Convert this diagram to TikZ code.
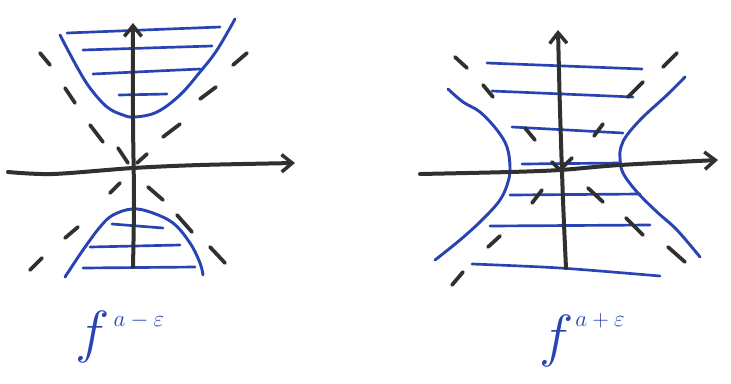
\documentclass[tikz,border=0pt]{standalone}
\usetikzlibrary{arrows.meta}
\definecolor{penblue}{RGB}{40,68,178}
\definecolor{penblack}{RGB}{48,48,48}
\begin{document}
\begin{tikzpicture}[x=0.75pt,y=-0.75pt,
  axisline/.style={draw=penblack,line width=3pt,line cap=round,
    -{Straight Barb[length=8pt,width=13pt,line width=2.6pt]}},
  level/.style={draw=penblue,line width=2pt,line cap=round},
  sheet/.style={draw=penblue,line width=2.2pt,line cap=round},
  dashseg/.style={draw=penblack,line width=2.8pt,line cap=round},
  fsym/.style={text=penblue,inner sep=0pt,anchor=center,font=\Huge,scale=1.75},
  supsym/.style={text=penblue,inner sep=0pt,anchor=center,font=\fontsize{18}{18}\selectfont}]
\useasboundingbox (0,0) rectangle (731,383);

% ---------- left panel ----------
\coordinate (LO) at (133,168);
\coordinate (LVa) at (133,267);
\coordinate (LVb) at (133,23);
\coordinate (LHa) at (8,172);
\coordinate (LHb) at (295,163);

% level lines (top)
\draw[level] (67,33) -- (220,27);
\draw[level] (83,50) -- (212,46);
\draw[level] (93,74) -- (200,69);
\draw[level] (119,95) -- (167,94);
% level lines (bottom)
\draw[level] (112,224) -- (163,228);
\draw[level] (90,247) -- (180,245);
\draw[level] (83,268) -- (195,267);

% sheets
\draw[sheet] plot[smooth,tension=0.6] coordinates {(60,35) (77,67) (90,88) (107,107) (123,115) (135,117) (157,112) (180,95) (200,72) (217,50) (235,19)};
\draw[sheet] plot[smooth,tension=0.6] coordinates {(65,277) (83,250) (100,227) (113,215) (132,209) (150,212) (173,223) (190,243) (200,263) (203,275)};

% dashed asymptotes
\foreach \a/\b in {{(40,53)}/{(50,65)},{(65,88)}/{(75,103)},{(90,125)}/{(103,142)},{(118,148)}/{(128,163)},{(148,187)}/{(163,200)},{(177,215)}/{(192,232)},{(210,247)}/{(225,263)},
  {(247,53)}/{(233,65)},{(216,87)}/{(200,99)},{(180,124)}/{(163,137)},{(147,154)}/{(137,163)},{(120,183)}/{(110,193)},{(78,227)}/{(65,238)},{(42,258)}/{(30,270)}}
  \draw[dashseg] \a -- \b;

% axes
\draw[axisline] plot[smooth] coordinates {(LVa) (134,200) (133,120) (LVb)};
\draw[axisline] plot[smooth] coordinates {(LHa) (53,174) (LO) (200,165) (LHb)};

\node[fsym] (Lf) at (93,337) {$f$};
\node[supsym] (Lsup) at (139,321) {$a-\varepsilon$};

% ---------- right panel ----------
\coordinate (RO) at (560,170);
\coordinate (RVa) at (566,268);
\coordinate (RVb) at (558,30);
\coordinate (RHa) at (420,174);
\coordinate (RHb) at (718,160);

% level lines
\draw[level] (487,63) -- (642,69);
\draw[level] (492,91) -- (633,97);
\draw[level] (512,127) -- (623,133);
\draw[level] (522,164) -- (620,163);
\draw[level] (510,195) -- (640,194);
\draw[level] (490,226) -- (650,225);
\draw[level] plot[smooth] coordinates {(472,264) (560,268) (660,276)};

% sheets
\draw[sheet] plot[smooth,tension=0.6] coordinates {(448,89) (463,102) (480,112) (497,130) (507,147) (510,167) (508,182) (500,200) (482,220) (460,240) (435,260)};
\draw[sheet] plot[smooth,tension=0.6] coordinates {(685,77) (667,95) (643,117) (627,135) (621,147) (620,158) (623,173) (637,192) (657,212) (677,230) (700,257)};

% dashed asymptotes
\foreach \a/\b in {{(455,57)}/{(467,68)},{(483,85)}/{(493,97)},{(525,128)}/{(535,140)},{(552,162)}/{(560,170)},{(588,188)}/{(603,202)},{(626,218)}/{(643,235)},{(668,247)}/{(685,262)},
  {(677,53)}/{(663,67)},{(643,82)}/{(628,97)},{(603,124)}/{(594,136)},{(572,158)}/{(563,167)},{(542,190)}/{(532,203)},{(500,236)}/{(488,247)},{(463,272)}/{(452,285)}}
  \draw[dashseg] \a -- \b;

% axes
\draw[axisline] plot[smooth] coordinates {(RVa) (563,200) (560,110) (RVb)};
\draw[axisline] plot[smooth] coordinates {(RHa) (510,172) (RO) (620,165) (RHb)};

\node[fsym] (Rf) at (557,341) {$f$};
\node[supsym] (Rsup) at (600,321) {$a+\varepsilon$};
\end{tikzpicture}
\end{document}
